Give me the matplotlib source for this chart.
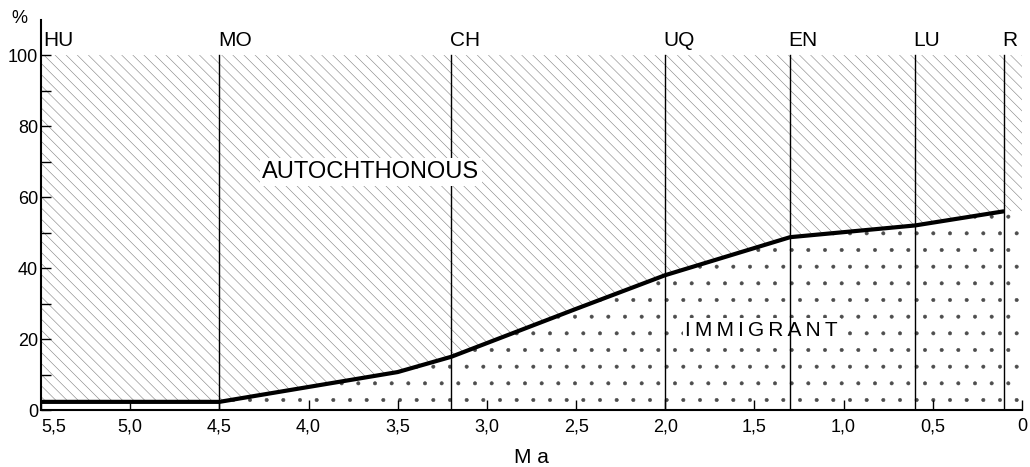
import matplotlib.pyplot as plt
import numpy as np

# immigrant share (%) through time (Ma)
ages = [5.5, 4.5, 4.0, 3.5, 3.2, 2.5, 2.0, 1.3, 0.6, 0.1]
immigrant_pct = [2.3, 2.3, 6.5, 10.7, 15.0, 28.5, 38.0, 48.7, 52.0, 56.0]

# stage boundaries and their labels
stage_ages = [5.5, 4.5, 3.2, 2.0, 1.3, 0.6, 0.1]
stage_labels = ["HU", "MO", "CH", "UQ", "EN", "LU", "R"]

xticks = [5.5, 5.0, 4.5, 4.0, 3.5, 3.0, 2.5, 2.0, 1.5, 1.0, 0.5, 0.0]
yticks = [0, 20, 40, 60, 80, 100]

plt.rcParams['font.family'] = ['Liberation Sans', 'DejaVu Sans']
plt.rcParams['hatch.linewidth'] = 0.4

fig = plt.figure(figsize=(10.3, 4.67), dpi=100)
ax = fig.add_axes([0.0398, 0.122, 0.9524, 0.836])

# fill out to the right edge with the last value
fill_x = np.append(ages, 0.0)
fill_y = np.append(immigrant_pct, immigrant_pct[-1])

ax.fill_between(fill_x, fill_y, 100, facecolor='white', edgecolor='0.5',
                hatch='\\\\\\', linewidth=0, zorder=1)
ax.fill_between(fill_x, 0, fill_y, facecolor='white', edgecolor='0.3',
                hatch='.', linewidth=0, zorder=1)

for a in stage_ages[1:]:
    ax.plot([a, a], [0, 100], color='black', lw=1.0, zorder=2)

ax.plot(ages, immigrant_pct, color='black', lw=3, solid_capstyle='butt',
        zorder=4)

for a, lab in zip(stage_ages, stage_labels):
    ax.annotate(lab, (a, 101.5), xytext=(1.5 if a == 5.5 else -1, 0),
                textcoords='offset points', ha='left', va='bottom',
                fontsize=15, annotation_clip=False)

box = dict(facecolor='white', edgecolor='none', pad=2)
ax.text(3.65, 67, "AUTOCHTHONOUS", fontsize=17, ha='center', va='center',
        bbox=box, zorder=3)
ax.text(1.46, 22.5, "\u2009".join("IMMIGRANT"), fontsize=15,
        ha='center', va='center', bbox=box, zorder=1.5)
ax.text(5.62, 110.3, "%", fontsize=13, ha='center', va='center', clip_on=False)

ax.set_xlim(5.5, 0)
ax.set_ylim(0, 110)
ax.set_xticks(xticks)
ax.set_xticklabels([f"{t:.1f}".replace('.', ',') for t in xticks[:-1]] + ["0"])
ax.get_xticklabels()[0].set_ha('left')
ax.set_yticks(yticks)
ax.set_yticks([10, 30, 50, 70, 90], minor=True)
ax.tick_params(axis='both', direction='in', length=7, width=1.0,
               labelsize=13, pad=6)
ax.tick_params(axis='y', which='minor', direction='in', length=7, width=1.0)
ax.tick_params(axis='y', pad=2)
ax.set_xlabel("M a", fontsize=15, labelpad=9)

for s in ['top', 'right']:
    ax.spines[s].set_visible(False)
for s in ['left', 'bottom']:
    ax.spines[s].set_linewidth(1.5)
    ax.spines[s].set_zorder(5)

fig.savefig("out.png", dpi=100)
